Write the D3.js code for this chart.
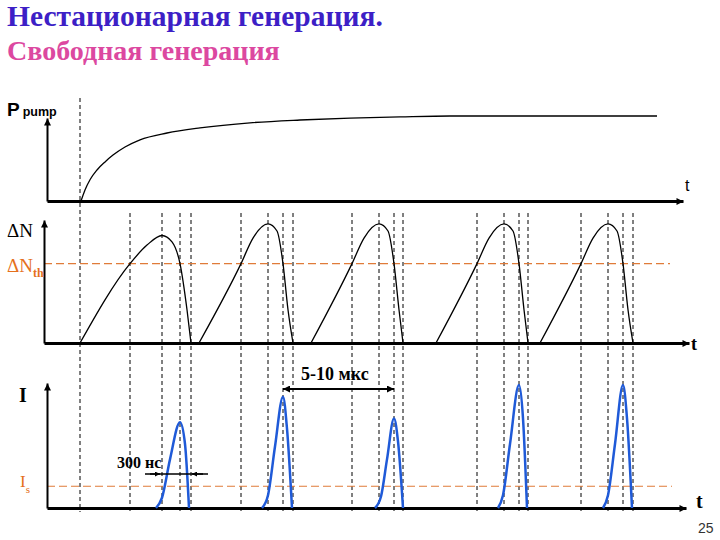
<!DOCTYPE html>
<html>
<head>
<meta charset="utf-8">
<script src="https://cdn.jsdelivr.net/npm/d3@7"></script>
<style>
  body { margin: 0; background: #fff; }
  svg { display: block; }
  .serif { font-family: "Liberation Serif", "Times New Roman", serif; }
  .sans { font-family: "Liberation Sans", Arial, sans-serif; }
</style>
</head>
<body>
<svg id="chart" width="720" height="540"></svg>
<script>
// time in arbitrary units (1 unit ~ 10 px), levels in % of panel height

// pump power rise
var pumpCurve = [[3.6, 0], [4.0, 13], [4.5, 25], [5.2, 36.5], [6.0, 46], [6.8, 54], [8.0, 63.5],
  [9.5, 72], [12.2, 80], [15.5, 86], [20.5, 92], [25.5, 95.3], [30.5, 97.6], [35.5, 99], [40.5, 100], [61.2, 100]];

// vertical dashed marker times
var dashTimes = [3.5, 8.5, 11.7, 13.5, 14.6, 19.6, 22.3, 23.8, 24.8, 30.7, 33.4, 34.9, 35.8,
  43.2, 45.9, 47.4, 48.3, 53.6, 56.3, 57.8, 58.8];

// inversion population cycles
var nCycles = [
  [[3.5, 0], [8.5, 62], [10.2, 76.5], [11.7, 84], [12.7, 79], [13.5, 62], [14.2, 26], [14.6, 0]],
  [[15.4, 0], [19.6, 62], [20.8, 82], [22.3, 93], [23.2, 87.5], [23.8, 62], [24.3, 26], [24.8, 0]],
  [[26.6, 0], [30.7, 62], [31.9, 82], [33.4, 93], [34.3, 87.5], [34.9, 62], [35.4, 26], [35.8, 0]],
  [[39.1, 0], [43.2, 62], [44.4, 82], [45.9, 93], [46.8, 87.5], [47.4, 62], [47.9, 26], [48.3, 0]],
  [[49.5, 0], [53.6, 62], [54.8, 82], [56.3, 93], [57.2, 87.5], [57.8, 62], [58.3, 26], [58.8, 0]]
];
var nThreshold = 62;

// output intensity spikes
var pulses = [
  [[11.1, 0], [11.7, 8], [12.5, 38], [13.5, 67], [14.0, 50], [14.4, 0]],
  [[21.7, 0], [22.3, 10], [23.0, 48], [23.8, 87], [24.2, 62], [24.7, 0]],
  [[33.0, 0], [33.6, 9], [34.2, 38], [34.9, 70], [35.3, 52], [35.8, 0]],
  [[45.3, 0], [45.8, 10], [46.5, 50], [47.4, 96], [47.8, 70], [48.2, 0]],
  [[55.8, 0], [56.3, 10], [57.0, 50], [57.8, 96], [58.2, 70], [58.7, 0]]
];
var iThreshold = 17;

var svg = d3.select("#chart");
svg.append("rect").attr("width", 720).attr("height", 540).attr("fill", "#fff");

var defs = svg.append("defs");
defs.append("marker")
  .attr("id", "arrow")
  .attr("viewBox", "0 0 10 10")
  .attr("refX", 10).attr("refY", 5)
  .attr("markerUnits", "userSpaceOnUse")
  .attr("markerWidth", 9).attr("markerHeight", 7)
  .attr("orient", "auto-start-reverse")
  .append("path").attr("d", "M0,0L10,5L0,10Z").attr("fill", "#000");
defs.append("marker")
  .attr("id", "arrowSmall")
  .attr("viewBox", "0 0 10 10")
  .attr("refX", 10).attr("refY", 5)
  .attr("markerUnits", "userSpaceOnUse")
  .attr("markerWidth", 6).attr("markerHeight", 5)
  .attr("orient", "auto")
  .append("path").attr("d", "M0,0L10,5L0,10Z").attr("fill", "#000");

var x = d3.scaleLinear().domain([0, 64]).range([45, 685]);

var yP = d3.scaleLinear().domain([0, 100]).range([201, 116]);
var yN = d3.scaleLinear().domain([0, 100]).range([343, 215]);
var yI = d3.scaleLinear().domain([0, 100]).range([508, 380]);

// titles
svg.append("text").attr("class", "serif")
  .attr("x", 7).attr("y", 26)
  .style("font-size", "29.5px").style("font-weight", "bold")
  .attr("fill", "#3d1fc6")
  .text("Нестационарная генерация.");
svg.append("text").attr("class", "serif")
  .attr("x", 7).attr("y", 60)
  .style("font-size", "28px").style("font-weight", "bold")
  .attr("fill", "#dc48a0")
  .text("Свободная генерация");

// vertical dashed lines
svg.append("g").selectAll("line")
  .data(dashTimes)
  .enter().append("line")
  .attr("x1", function(d) { return x(d); })
  .attr("x2", function(d) { return x(d); })
  .attr("y1", function(d, i) { return i === 0 ? 98 : 213; })
  .attr("y2", 512)
  .attr("stroke", "#000")
  .attr("stroke-width", 1)
  .attr("stroke-dasharray", "4,3");

// threshold lines
svg.append("line")
  .attr("x1", 44).attr("x2", 670)
  .attr("y1", yN(nThreshold)).attr("y2", yN(nThreshold))
  .attr("stroke", "#e07b39").attr("stroke-width", 1.2).attr("stroke-dasharray", "8,4");
svg.append("line")
  .attr("x1", 47).attr("x2", 672)
  .attr("y1", yI(iThreshold)).attr("y2", yI(iThreshold))
  .attr("stroke", "#e07b39").attr("stroke-width", 1.2).attr("stroke-dasharray", "8,4");

// axes: only the line + arrowhead
function drawAxes(xEnd, yBase, yTop, yLeft) {
  var xs = d3.scaleLinear().range([yLeft, xEnd]);
  var ys = d3.scaleLinear().range([yBase, yTop]);
  var gx = svg.append("g")
    .attr("transform", "translate(0," + yBase + ")")
    .call(d3.axisBottom(xs).tickValues([]).tickSizeOuter(0));
  var gy = svg.append("g")
    .attr("transform", "translate(" + yLeft + ",0)")
    .call(d3.axisLeft(ys).tickValues([]).tickSizeOuter(0));
  [gx, gy].forEach(function(g) {
    g.select(".domain")
      .attr("stroke", "#000")
      .attr("stroke-width", 3)
      .attr("marker-end", "url(#arrow)");
  });
  gy.select(".domain").attr("stroke-width", 2);
}
drawAxes(683, 201, 118, 47);
drawAxes(689, 343, 220, 44);
drawAxes(686, 508, 383, 47);

// curves
var pumpLine = d3.line()
  .x(function(d) { return x(d[0]); })
  .y(function(d) { return yP(d[1]); })
  .curve(d3.curveMonotoneX);
svg.append("path")
  .datum(pumpCurve)
  .attr("d", pumpLine)
  .attr("fill", "none").attr("stroke", "#000").attr("stroke-width", 1.3);

var nLine = d3.line()
  .x(function(d) { return x(d[0]); })
  .y(function(d) { return yN(d[1]); })
  .curve(d3.curveMonotoneX);
svg.append("g").selectAll("path")
  .data(nCycles)
  .enter().append("path")
  .attr("d", nLine)
  .attr("fill", "none").attr("stroke", "#000").attr("stroke-width", 1.3);

var iLine = d3.line()
  .x(function(d) { return x(d[0]); })
  .y(function(d) { return yI(d[1]); })
  .curve(d3.curveMonotoneX);
svg.append("g").selectAll("path")
  .data(pulses)
  .enter().append("path")
  .attr("d", iLine)
  .attr("fill", "none").attr("stroke", "#1f5ad8").attr("stroke-width", 2.5);

// axis labels
var pLab = svg.append("text").attr("class", "sans")
  .attr("x", 7).attr("y", 116)
  .style("font-weight", "bold").style("font-size", "19px");
pLab.append("tspan").text("P");
pLab.append("tspan").attr("dx", 3).attr("dy", 0).style("font-size", "12.5px").text("pump");

svg.append("text").attr("class", "sans")
  .attr("x", 685).attr("y", 191)
  .style("font-size", "16px").text("t");

svg.append("text").attr("class", "serif")
  .attr("x", 7).attr("y", 237)
  .style("font-size", "19px").text("ΔN");
var nthLab = svg.append("text").attr("class", "serif")
  .attr("x", 7).attr("y", 272)
  .attr("fill", "#e5701c")
  .style("font-size", "19px");
nthLab.append("tspan").text("ΔN");
nthLab.append("tspan").attr("dy", 5).style("font-size", "12px").style("font-weight", "bold").text("th");

svg.append("text").attr("class", "serif")
  .attr("x", 691).attr("y", 350)
  .style("font-size", "18px").style("font-weight", "bold").text("t");

svg.append("text").attr("class", "serif")
  .attr("x", 19).attr("y", 402)
  .style("font-size", "20px").style("font-weight", "bold").text("I");
var isLab = svg.append("text").attr("class", "serif")
  .attr("x", 20).attr("y", 487)
  .attr("fill", "#e5701c")
  .style("font-size", "17px");
isLab.append("tspan").text("I");
isLab.append("tspan").attr("dy", 6).style("font-size", "11px").text("s");

svg.append("text").attr("class", "serif")
  .attr("x", 696).attr("y", 508)
  .style("font-size", "20px").style("font-weight", "bold").text("t");

svg.append("text").attr("class", "sans")
  .attr("x", 698).attr("y", 533)
  .attr("fill", "#333")
  .style("font-size", "14px").text("25");

// period annotation
svg.append("line")
  .attr("x1", x(dashTimes[7])).attr("x2", x(dashTimes[11]))
  .attr("y1", 389).attr("y2", 389)
  .attr("stroke", "#000").attr("stroke-width", 2)
  .attr("marker-start", "url(#arrow)").attr("marker-end", "url(#arrow)");
svg.append("text").attr("class", "serif")
  .attr("x", 301).attr("y", 380)
  .style("font-size", "18px").style("font-weight", "bold").text("5-10 мкс");

// pulse width annotation
svg.append("line")
  .attr("x1", 145).attr("x2", 208)
  .attr("y1", 474).attr("y2", 474)
  .attr("stroke", "#000").attr("stroke-width", 1.5);
svg.append("line")
  .attr("x1", 150).attr("x2", x(dashTimes[2]) - 2)
  .attr("y1", 474).attr("y2", 474)
  .attr("stroke", "#000").attr("stroke-width", 1.5)
  .attr("marker-end", "url(#arrowSmall)");
svg.append("line")
  .attr("x1", 203).attr("x2", x(dashTimes[4]) + 1)
  .attr("y1", 474).attr("y2", 474)
  .attr("stroke", "#000").attr("stroke-width", 1.5)
  .attr("marker-end", "url(#arrowSmall)");
svg.append("text").attr("class", "serif")
  .attr("x", 117).attr("y", 468)
  .style("font-size", "16px").style("font-weight", "bold").text("300 нс");
</script>
</body>
</html>
